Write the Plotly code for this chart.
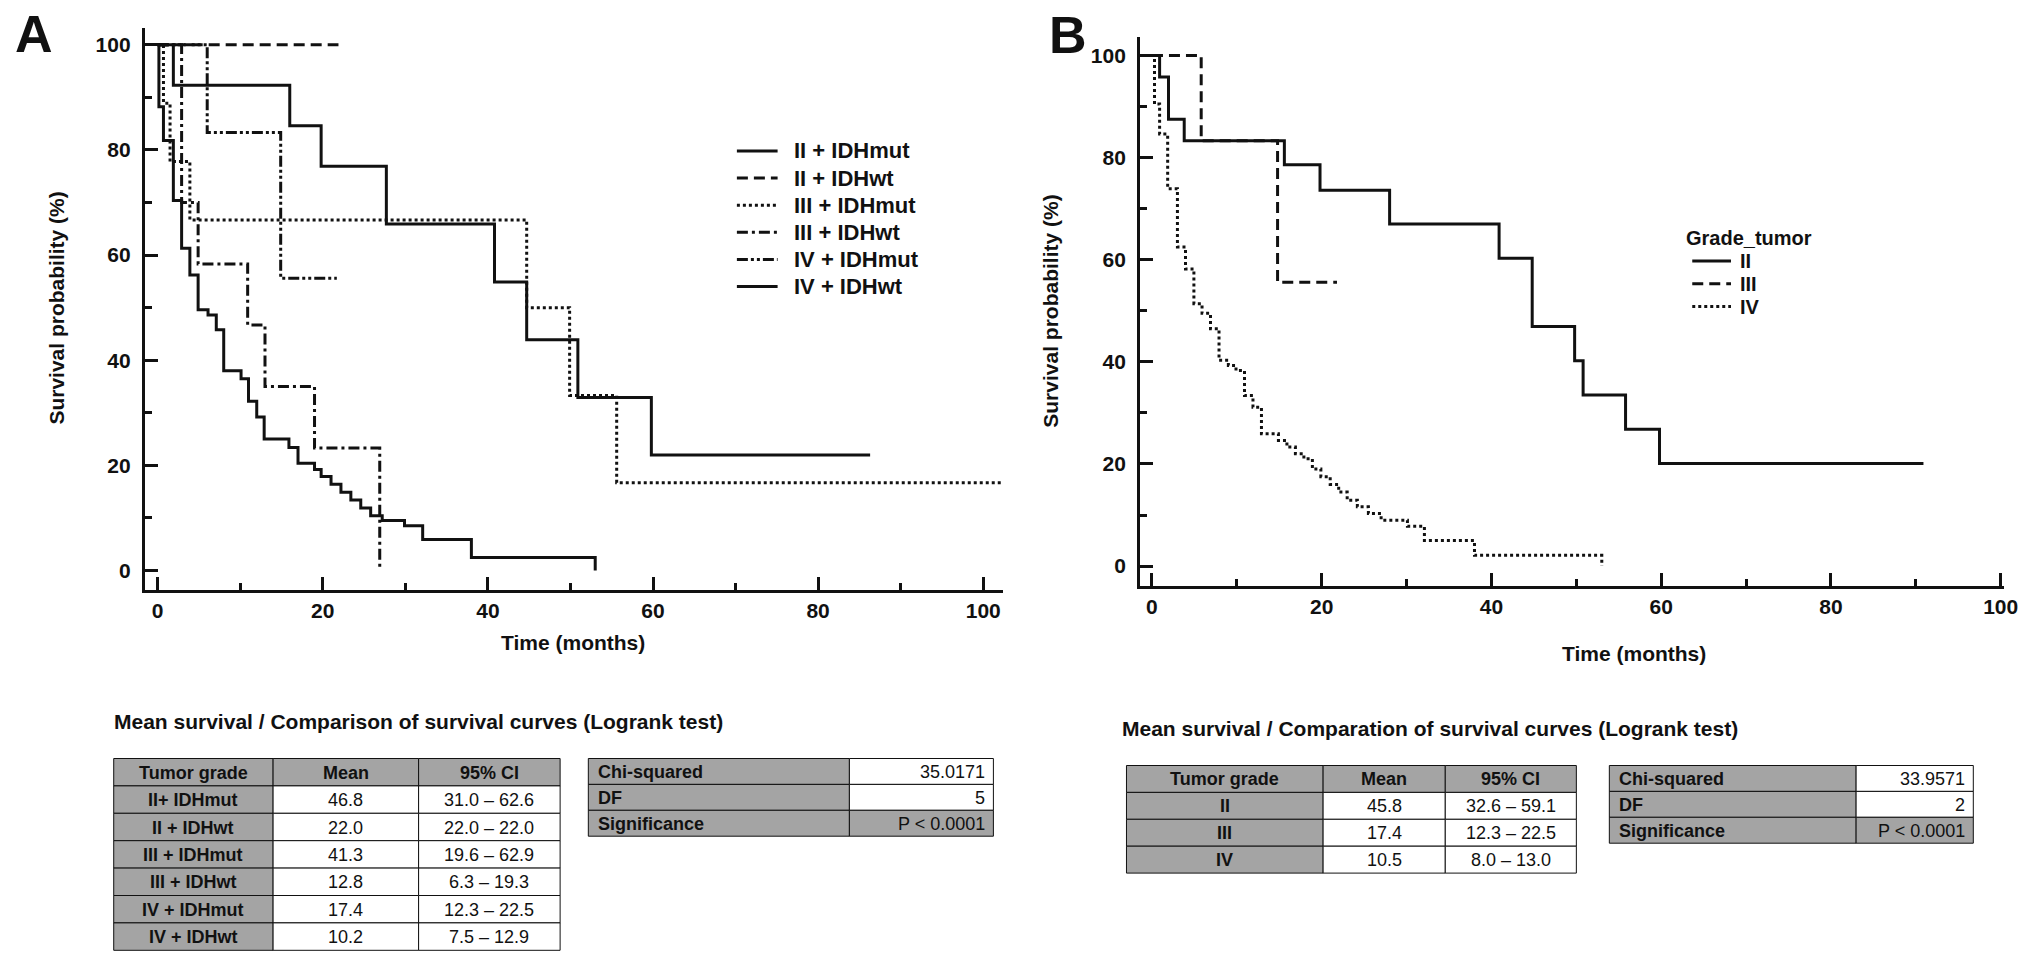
import plotly.graph_objects as go

# canvas size
W, H = 2031, 963
FONT = "Liberation Sans, Arial, Helvetica, sans-serif"
INK = "#111111"
GRAY = "#a4a4a4"

# ---------------- panel A : grade + IDH status ----------------
a_names = ["II + IDHmut", "II + IDHwt", "III + IDHmut", "III + IDHwt", "IV + IDHmut", "IV + IDHwt"]

a_t_ii_mut = [0, 1.9, 16.0, 19.8, 27.7, 40.8, 44.7, 50.9, 59.8, 86.3]
a_s_ii_mut = [100, 92.3, 84.6, 76.9, 65.9, 54.9, 43.9, 32.9, 22.0, 22.0]

a_t_ii_wt = [0, 21.9]
a_s_ii_wt = [100, 100]

a_t_iii_mut = [0, 0.7, 1.5, 3.9, 44.7, 49.9, 55.6, 102.4]
a_s_iii_mut = [100, 88.9, 77.8, 66.7, 50.0, 33.3, 16.7, 16.7]

a_t_iii_wt = [0, 2.9, 4.9, 10.9, 13.0, 19.0, 26.9]
a_s_iii_wt = [100, 70.0, 58.3, 46.7, 35.0, 23.3, 0]

a_t_iv_mut = [0, 6.0, 14.9, 21.7]
a_s_iv_mut = [100, 83.3, 55.6, 55.6]

a_t_iv_wt = [0, 0.15, 0.7, 1.9, 2.9, 3.9, 4.9, 6.1, 7.1, 8.0, 10.1, 11.0, 12.0, 12.9,
             15.9, 17.0, 19.0, 19.8, 21.0, 22.2, 23.4, 24.6, 25.8, 27.2, 29.9, 32.1, 38.0, 53.0]
a_s_iv_wt = [100, 88.2, 81.8, 70.4, 61.3, 56.2, 49.6, 48.6, 45.8, 38.0, 36.5, 32.2, 29.2, 25.0,
             23.4, 20.4, 19.2, 17.9, 16.4, 14.9, 13.4, 11.9, 10.4, 9.5, 8.5, 5.9, 2.5, 0]

# ---------------- panel B : grade only ----------------
b_names = ["II", "III", "IV"]

b_t_ii = [0, 0.9, 1.95, 3.8, 15.6, 19.8, 28.0, 40.9, 44.8, 49.8, 50.8, 55.8, 59.8, 90.9]
b_s_ii = [100, 95.8, 87.5, 83.3, 78.6, 73.6, 67.0, 60.3, 46.9, 40.2, 33.5, 26.8, 20.1, 20.1]

b_t_iii = [0, 5.8, 14.8, 21.8]
b_s_iii = [100, 83.3, 55.6, 55.6]

b_t_iv = [0, 0.3, 0.9, 1.85, 3.0, 3.95, 4.94, 5.9, 6.9, 7.9, 9.0, 9.9, 10.9, 11.9, 12.9,
          14.9, 15.9, 16.9, 17.9, 18.9, 19.9, 21.0, 22.0, 23.0, 24.2, 25.5, 27.0, 30.1, 32.1, 38.0, 53.0]
b_s_iv = [100, 90.5, 84.6, 73.9, 62.5, 58.2, 51.4, 49.5, 46.5, 40.3, 39.3, 38.3, 33.4, 31.1, 25.9,
          24.6, 23.3, 22.0, 21.0, 19.0, 17.5, 16.0, 14.5, 12.9, 11.6, 10.3, 9.0, 7.8, 5.0, 2.1, 0]

# ---------------- tables ----------------
a_grades = ["II+ IDHmut", "II + IDHwt", "III + IDHmut", "III + IDHwt", "IV + IDHmut", "IV + IDHwt"]
a_mean = [46.8, 22.0, 41.3, 12.8, 17.4, 10.2]
a_ci_low = [31.0, 22.0, 19.6, 6.3, 12.3, 7.5]
a_ci_high = [62.6, 22.0, 62.9, 19.3, 22.5, 12.9]
a_chi, a_df, a_p = "35.0171", "5", "P < 0.0001"

b_grades = ["II", "III", "IV"]
b_mean = [45.8, 17.4, 10.5]
b_ci_low = [32.6, 12.3, 8.0]
b_ci_high = [59.1, 22.5, 13.0]
b_chi, b_df, b_p = "33.9571", "2", "P < 0.0001"

table_head = ["Tumor grade", "Mean", "95% CI"]
test_labels = ["Chi-squared", "DF", "Significance"]


def px(x):
    return x / W


def py(y):
    return 1 - y / H


# line styles for the curves
SOLID = "solid"
DASH = "11px,6px"
DOT = "3px,3px"
DASHDOT = "11px,4px,3px,4px"
DASHDOTDOT = "11px,3px,3px,3px,3px,3px"

fig = go.Figure()
shapes, notes = [], []

a_curves = [(a_t_ii_mut, a_s_ii_mut, SOLID), (a_t_ii_wt, a_s_ii_wt, DASH),
            (a_t_iii_mut, a_s_iii_mut, DOT), (a_t_iii_wt, a_s_iii_wt, DASHDOT),
            (a_t_iv_mut, a_s_iv_mut, DASHDOTDOT), (a_t_iv_wt, a_s_iv_wt, SOLID)]
for name, (t, s, dash) in zip(a_names, a_curves):
    fig.add_trace(go.Scatter(x=t, y=s, name=name, mode="lines", line_shape="hv",
                             line=dict(color=INK, width=3, dash=dash),
                             xaxis="x", yaxis="y", showlegend=False))

b_curves = [(b_t_ii, b_s_ii, SOLID), (b_t_iii, b_s_iii, DASH), (b_t_iv, b_s_iv, DOT)]
for name, (t, s, dash) in zip(b_names, b_curves):
    fig.add_trace(go.Scatter(x=t, y=s, name=name, mode="lines", line_shape="hv",
                             line=dict(color=INK, width=3, dash=dash),
                             xaxis="x2", yaxis="y2", showlegend=False))

tick_font = dict(family=FONT, size=21, color=INK, weight="bold")
minor = dict(dtick=10, ticks="inside", ticklen=7, tickwidth=2.5, tickcolor=INK, showgrid=False)
axis_common = dict(showgrid=False, zeroline=False, showline=True, linewidth=3, linecolor=INK,
                   ticks="inside", ticklen=13, tickwidth=2.5, tickcolor=INK,
                   tickfont=tick_font, dtick=20, tick0=0, minor=minor, ticklabeloverflow="allow")

fig.update_layout(
    xaxis=dict(domain=[px(145.8), px(1010)], range=[-1.56, 102.4], anchor="y",
               ticklabelstandoff=0, **axis_common),
    yaxis=dict(domain=[py(590), py(28)], range=[-3.7, 103.2], anchor="x",
               ticklabelstandoff=7, **axis_common),
    xaxis2=dict(domain=[px(1148), px(2018)], range=[-1.4, 100.4], anchor="y2",
                ticklabelstandoff=0, **axis_common),
    yaxis2=dict(domain=[py(586), py(36.6)], range=[-3.9, 103.7], anchor="x2",
                ticklabelstandoff=7, **axis_common),
)


# ---- hand-drawn legends (compact rows like the original) ----
def legend_block(names, dashes, x_line, line_len, x_text, y_first, row, size):
    for i, (name, dash) in enumerate(zip(names, dashes)):
        yy = y_first + i * row
        shapes.append(dict(type="line", xref="paper", yref="paper",
                           x0=px(x_line), x1=px(x_line + line_len), y0=py(yy), y1=py(yy),
                           line=dict(color=INK, width=3, dash=dash)))
        notes.append(dict(text=name, x=px(x_text), y=py(yy), xanchor="left",
                          font=dict(family=FONT, size=size, color=INK, weight="bold")))


legend_block(a_names, [c[2] for c in a_curves], 742, 41, 797, 151, 27.1, 22)
notes.append(dict(text="Grade_tumor", x=px(1696), y=py(238), xanchor="left",
                  font=dict(family=FONT, size=20, color=INK, weight="bold")))
legend_block(b_names, [c[2] for c in b_curves], 1704, 39, 1750, 261, 22.8, 20)


# ---- survival tables drawn as cells ----
def draw_table(edges, top, row_h, rows, fills, bold, align):
    for i, row in enumerate(rows):
        y0 = top + i * row_h
        for j, text in enumerate(row):
            x0, x1 = edges[j], edges[j + 1]
            shapes.append(dict(type="rect", xref="paper", yref="paper",
                               x0=px(x0), x1=px(x1), y0=py(y0 + row_h), y1=py(y0),
                               fillcolor=fills[i][j], line=dict(color=INK, width=1), layer="below"))
            a = align[j]
            tx = {"center": (x0 + x1) / 2, "left": x0 + 8, "right": x1 - 6}[a]
            notes.append(dict(text=text, x=px(tx), y=py(y0 + row_h / 2 + 0.5), xanchor=a,
                              font=dict(family=FONT, size=18, color=INK,
                                        weight="bold" if bold[i][j] else "normal")))


def mean_rows(grades, mean, lo, hi):
    rows = [table_head]
    for g, m, l, h in zip(grades, mean, lo, hi):
        rows.append([g, "%.1f" % m, "%.1f \u2013 %.1f" % (l, h)])
    n = len(rows)
    fills = [[GRAY] * 3] + [[GRAY, "white", "white"]] * (n - 1)
    bold = [[True] * 3] + [[True, False, False]] * (n - 1)
    return rows, fills, bold


rows, fills, bold = mean_rows(a_grades, a_mean, a_ci_low, a_ci_high)
draw_table([114.5, 275, 421.5, 564], 758.5, 27.4, rows, fills, bold, ["center"] * 3)
rows, fills, bold = mean_rows(b_grades, b_mean, b_ci_low, b_ci_high)
draw_table([1134.3, 1332.3, 1455.3, 1587.3], 765.5, 26.9, rows, fills, bold, ["center"] * 3)

test_fills = [[GRAY, "white"], [GRAY, "white"], [GRAY, GRAY]]
test_bold = [[True, False]] * 3
draw_table([592.4, 855.3, 1000.3], 758.5, 25.9,
           [list(r) for r in zip(test_labels, [a_chi, a_df, a_p])], test_fills, test_bold, ["left", "right"])
draw_table([1620.5, 1869, 1987], 765.5, 25.9,
           [list(r) for r in zip(test_labels, [b_chi, b_df, b_p])], test_fills, test_bold, ["left", "right"])

# ---- titles and panel letters ----
title_font = dict(family=FONT, size=21, color=INK, weight="bold")
notes += [
    dict(text="A", x=px(34), y=py(34), font=dict(family=FONT, size=52, color=INK, weight="bold")),
    dict(text="B", x=px(1075), y=py(35), font=dict(family=FONT, size=52, color=INK, weight="bold")),
    dict(text="Survival probability (%)", x=px(57), y=py(308), textangle=-90, font=title_font),
    dict(text="Survival probability (%)", x=px(1057), y=py(311), textangle=-90, font=title_font),
    dict(text="Time (months)", x=px(577), y=py(642), font=title_font),
    dict(text="Time (months)", x=px(1645), y=py(653), font=title_font),
    dict(text="Mean survival / Comparison of survival curves (Logrank test)", x=px(113), y=py(721),
         xanchor="left", font=dict(family=FONT, size=21, color=INK, weight="bold")),
    dict(text="Mean survival / Comparation of survival curves (Logrank test)", x=px(1128), y=py(728),
         xanchor="left", font=dict(family=FONT, size=21, color=INK, weight="bold")),
]
for n in notes:
    n.setdefault("xanchor", "center")
    fig.add_annotation(xref="paper", yref="paper", yanchor="middle", showarrow=False, **n)

fig.update_layout(
    width=W, height=H,
    margin=dict(l=0, r=0, t=0, b=0),
    paper_bgcolor="white", plot_bgcolor="white",
    showlegend=False,
    shapes=shapes,
)

# page body margin would shift the figure by 8px
fig.write_html("out.html", config={"displayModeBar": False},
               post_script="document.body.style.margin='0';document.body.style.overflow='hidden';")
